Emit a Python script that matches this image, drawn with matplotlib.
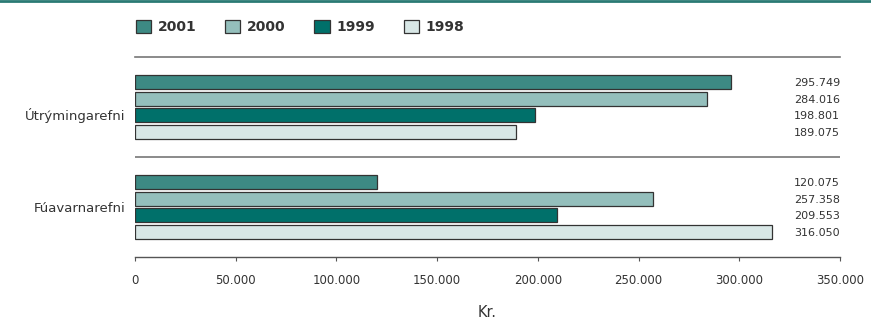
import numpy as np
import matplotlib
matplotlib.use("Agg")
import matplotlib.pyplot as plt
from matplotlib.lines import Line2D
from matplotlib.patches import Patch
from matplotlib.transforms import blended_transform_factory, ScaledTranslation

plt.rcParams['font.family'] = ['DejaVu Sans Condensed', 'Liberation Sans Narrow', 'DejaVu Sans']

categories = ["Útrýmingarefni", "Fúavarnarefni"]
years = ["2001", "2000", "1999", "1998"]
values = {
    "2001": [295749, 120075],
    "2000": [284016, 257358],
    "1999": [198801, 209553],
    "1998": [189075, 316050],
}
value_labels = {
    "2001": ["295.749", "120.075"],
    "2000": ["284.016", "257.358"],
    "1999": ["198.801", "209.553"],
    "1998": ["189.075", "316.050"],
}
colors = {"2001": "#3d8a84", "2000": "#94bfbc", "1999": "#00706a", "1998": "#d8e7e6"}
xticks = [0, 50000, 100000, 150000, 200000, 250000, 300000, 350000]
xticklabels = ["0", "50.000", "100.000", "150.000", "200.000", "250.000", "300.000", "350.000"]

fig = plt.figure(figsize=(8.71, 3.22), dpi=100)
ax = fig.add_axes([135 / 871, (322 - 257) / 322, 705 / 871, 200 / 322])

offsets = [-0.25, -0.083, 0.083, 0.25]
y = np.arange(len(categories))
trans = blended_transform_factory(ax.transAxes, ax.transData)
for yr, off in zip(years, offsets):
    ax.barh(y + off, values[yr], height=0.14, color=colors[yr],
            edgecolor="#333333", linewidth=0.9)
    for yi, lab in zip(y, value_labels[yr]):
        ax.text(1.0, yi + off + 0.01, lab, transform=trans, ha="right", va="center",
                fontsize=8, color="#333333")

ax.set_ylim(1.5, -0.5)
ax.set_xlim(0, 350000)
ax.axhline(0.5, color="#777777", linewidth=1.2)

for s in ["left", "right"]:
    ax.spines[s].set_visible(False)
ax.spines["top"].set_color("#777777")
ax.spines["top"].set_linewidth(1.2)
ax.spines["bottom"].set_color("#555555")
ax.spines["bottom"].set_linewidth(1.0)

ax.set_xticks(xticks)
ax.set_xticklabels(xticklabels, fontsize=8.5, color="#333333")
ax.tick_params(axis="x", length=3, color="#555555", pad=9)
ax.set_yticks(y)
ax.set_yticklabels(categories, fontsize=9.5, color="#333333")
ax.tick_params(axis="y", length=0, pad=7)
ax.set_xlabel("Kr.", fontsize=10.5, color="#333333", labelpad=13)

# first category label sits a little below its group in the original
lbl = ax.get_yticklabels()[0]
lbl.set_transform(lbl.get_transform() + ScaledTranslation(0, -7 / 100, fig.dpi_scale_trans))

# top border
fig.add_artist(Line2D([0, 1], [0.997, 0.997], transform=fig.transFigure,
                      color="#2a7a74", linewidth=2))

handles = [Patch(facecolor=colors[yr], edgecolor="#333333", linewidth=0.9) for yr in years]
leg = fig.legend(handles, years, loc="center left", bbox_to_anchor=(123 / 871, 1 - 27 / 322),
                 ncol=4, frameon=False, handlelength=1.1, handleheight=1.1,
                 columnspacing=2.05, handletextpad=0.5,
                 prop={"weight": "bold", "size": 10})
for t in leg.get_texts():
    t.set_color("#333333")

fig.savefig("out.png", dpi=100)
